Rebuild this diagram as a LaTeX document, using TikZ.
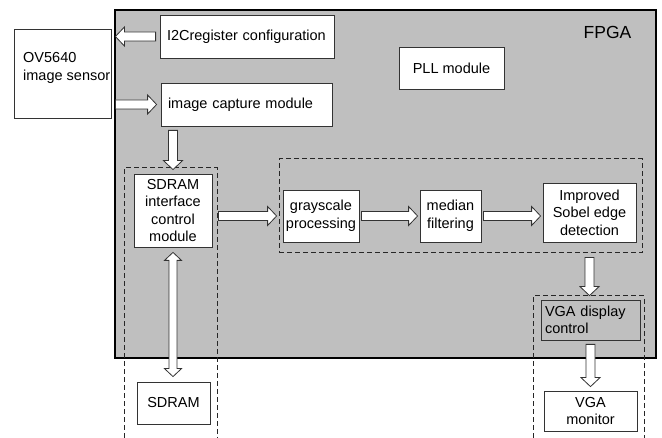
\documentclass[tikz,border=0pt]{standalone}
\usepackage{fontspec}
\setmainfont{Liberation Sans}
\usetikzlibrary{calc}

\tikzset{
  box/.style={draw=black!80, fill=white, line width=0.8pt, inner sep=0pt, align=center},
  fpgabox/.style={draw=black, fill=gray!50, line width=1.5pt, inner sep=0pt},
  group/.style={draw=black!85, line width=1pt, dash pattern=on 5pt off 3pt},
  fat gap/.store in=\fatgap, fat gap=4pt,
  fat/.style={fill=white, draw=black!80, line width=0.8pt, line join=miter,
    to path={
      ($(\tikztostart)!\fatgap!(\tikztotarget)$) coordinate (fa)
      ($(\tikztotarget)!\fatgap!(\tikztostart)$) coordinate (fb)
      ($(fb)!9pt!(fa)$) coordinate (fh)
      ($(fa)!4.5pt!90:(fb)$) -- ($(fh)!4.5pt!90:(fb)$) -- ($(fh)!9.5pt!90:(fb)$) -- (fb)
      -- ($(fh)!9.5pt!-90:(fb)$) -- ($(fh)!4.5pt!-90:(fb)$) -- ($(fa)!4.5pt!-90:(fb)$) -- cycle
    }},
  fatboth/.style={fill=white, draw=black!80, line width=0.8pt, line join=miter,
    to path={
      ($(\tikztostart)!\fatgap!(\tikztotarget)$) coordinate (fa)
      ($(\tikztotarget)!\fatgap!(\tikztostart)$) coordinate (fb)
      ($(fa)!8pt!(fb)$) coordinate (ha)
      ($(fb)!8pt!(fa)$) coordinate (hb)
      (fa) -- ($(ha)!8.5pt!90:(fb)$) -- ($(ha)!4pt!90:(fb)$) -- ($(hb)!4pt!90:(fb)$) -- ($(hb)!8.5pt!90:(fb)$) -- (fb)
      -- ($(hb)!8.5pt!-90:(fb)$) -- ($(hb)!4pt!-90:(fb)$) -- ($(ha)!4pt!-90:(fb)$) -- ($(ha)!8.5pt!-90:(fb)$) -- cycle
    }}
}

\begin{document}
\begin{tikzpicture}[x=1pt, y=-1pt, font=\fontsize{14.5}{17.5}\selectfont]
  \useasboundingbox (0,0) rectangle (662,438);

  \node[fpgabox, minimum width=541pt, minimum height=348pt] (fpga) at (385.5,184) {}; % FPGA area
  \node[font=\fontsize{17.5}{20}\selectfont] (fpgalbl) at (607.5,32) {FPGA};

  \draw[group] (124,438) -- (124,168) -- (217,168) -- (217,438); % SDRAM column
  \node[group, minimum width=363pt, minimum height=94pt, inner sep=0pt] (proc) at (460.5,206) {}; % processing chain
  \draw[group] (533,438) -- (533,296) -- (644,296) -- (644,438); % VGA column

  \node[box, minimum width=97pt, minimum height=89pt] (ov) at (62.5,73.5) {};
  \node[anchor=west, inner sep=0pt, align=left] (ovlbl) at (23,68) {OV5640\\image sensor};

  \node[box, minimum height=43pt, text width=160pt, inner xsep=7pt, align=left] (i2c) at (247,36.5) {I2Cregister configuration};
  \node[box, minimum height=43pt, text width=157pt, inner xsep=7pt, align=left] (cap) at (246.5,104.5) {image capture module};
  \node[box, minimum width=105pt, minimum height=42pt] (pll) at (451.5,68) {PLL module};

  \node[box, minimum width=78pt, minimum height=73pt] (iface) at (173,210.5) {SDRAM\\interface\\control\\module};
  \node[box, minimum width=73pt, minimum height=42pt] (sdram) at (173.5,403) {SDRAM};

  \node[box, minimum width=76pt, minimum height=52pt] (gray) at (321,216) {grayscale\\processing};
  \node[box, minimum width=61pt, minimum height=52pt] (med) at (450.5,216) {median\\filtering};
  \node[box, minimum width=93pt, minimum height=59pt] (sobel) at (589.5,212.5) {Improved\\Sobel edge\\detection};

  \node[box, fill=gray!50, minimum height=40pt, text width=91pt, inner xsep=4pt, align=left] (vgactl) at (590.5,320) {VGA display\\control};
  \node[box, minimum width=93pt, minimum height=40pt] (vgamon) at (590.5,411) {VGA\\monitor};

  \draw[fat] (i2c.west) to (i2c.west -| ov.east); % config to sensor
  \draw[fat] (ov.east |- cap.west) to (cap.west); % sensor to capture
  \draw[fat] (cap.south -| iface.north) to (iface.north);
  \draw[fat, fat gap=6pt] (iface.east |- gray.west) to (gray.west);
  \draw[fat, fat gap=2pt] (gray.east) to (med.west);
  \draw[fat, fat gap=2pt] (med.east) to (med.east -| sobel.west);
  \draw[fat] (proc.south -| sobel.south) to (sobel.south |- vgactl.north);
  \draw[fat] (vgactl.south) to (vgactl.south |- vgamon.north);
  \draw[fatboth, fat gap=5pt] (iface.south) to (iface.south |- sdram.north); % SDRAM read/write
\end{tikzpicture}
\end{document}
